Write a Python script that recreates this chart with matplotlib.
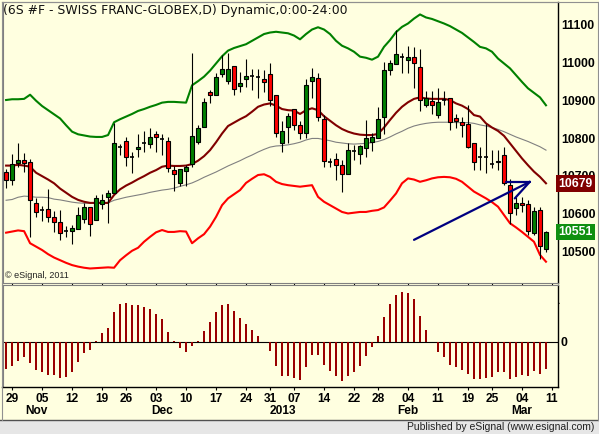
import matplotlib
matplotlib.use("Agg")
import matplotlib.pyplot as plt
from matplotlib.patches import Rectangle
from matplotlib.lines import Line2D
import matplotlib.transforms as mtransforms

# ---------------- data ----------------
opens = [10711,10690,10735,10741,10736,10629,10608,10611,10591,10577,10553,10553,10558,10586,10616,10582,
         10626,10643,10655,10775,10793,10750,10770,10786,10783,10810,10798,10793,10716,10682,10712,
         10730,10790,10829,10921,10913,10969,10952,10991,10938,10956,10965,10963,10958,10970,10913,10786,10830,
         10876,10834,10813,10951,10959,10850,10736,10744,10728,10704,10767,10759,10774,10790,10799,
         10855,10981,10997,11014,11007,11014,10989,10889,10898,10861,10901,10905,10852,10842,10837,10786,
         10749,10749,10730,10738,10755,10676,10615,10629,10624,10549,10609,10507]
highs = [10717,10759,10786,10761,10744,10642,10620,10665,10607,10609,10567,10570,10618,10629,10618,10649,
         10652,10662,10839,10784,10802,10764,10810,10819,10827,10819,10810,10804,10727,10717,10729,
         11025,10836,10905,10928,10972,11020,11025,10991,10976,11009,10982,10982,10981,10998,10913,10845,10866,
         10876,10844,10958,10985,10972,10861,10746,10760,10742,10786,10782,10782,10848,10813,10882,
         11003,11007,11088,11025,11044,11041,11035,10926,10926,10932,10926,10905,10864,10857,10888,10786,
         10777,10837,10768,10768,10777,10692,10644,10644,10636,10618,10618,10554]
lows = [10668,10675,10724,10711,10538,10591,10581,10578,10551,10530,10538,10518,10558,10574,10541,10582,
        10611,10576,10655,10755,10726,10708,10751,10764,10773,10762,10755,10711,10659,10674,10674,
        10724,10783,10829,10892,10913,10963,10943,10914,10923,10936,10927,10905,10923,10885,10802,10763,10786,
        10821,10797,10799,10905,10844,10722,10722,10690,10658,10704,10742,10731,10751,10767,10799,
        10810,10967,10997,10972,10972,10932,10873,10882,10864,10852,10888,10821,10826,10804,10773,10715,
        10715,10708,10720,10715,10676,10572,10596,10603,10543,10543,10478,10497]
closes = [10688,10732,10743,10735,10635,10605,10608,10591,10578,10547,10553,10561,10595,10616,10572,10640,
          10635,10654,10786,10775,10749,10750,10777,10786,10804,10802,10798,10721,10704,10717,10723,
          10806,10826,10895,10913,10961,10983,10982,10929,10945,10966,10965,10963,10948,10901,10813,10820,10859,
          10836,10813,10942,10961,10857,10738,10736,10728,10704,10768,10767,10778,10799,10802,10850,
          10981,10998,11023,11014,11014,11000,10901,10905,10889,10897,10901,10842,10846,10836,10775,10736,
          10749,10749,10730,10737,10680,10600,10627,10622,10554,10607,10514,10551]

ma_fast = [10727,10727,10729,10727,10724,10708,10699,10690,10680,10666,10655,10644,10636,10631,10628,10628,
           10628,10628,10649,10664,10674,10682,10691,10699,10708,10715,10724,10727,10726,10726,10727,
           10731,10740,10752,10768,10789,10812,10832,10841,10850,10858,10870,10883,10889,10892,10886,10877,10874,
           10873,10864,10874,10879,10874,10858,10846,10834,10824,10817,10812,10809,10808,10808,10811,10828,
           10848,10867,10883,10895,10904,10908,10905,10904,10904,10904,10901,10892,10886,10877,10861,
           10857,10839,10828,10819,10806,10786,10766,10746,10728,10711,10697,10680]
ma_slow = [10635,10637,10643,10646,10645,10643,10643,10642,10638,10636,10633,10630,10628,10627,10627,10627,
           10628,10628,10635,10639,10643,10646,10649,10652,10656,10659,10662,10664,10667,10672,10676,
           10681,10688,10696,10703,10710,10718,10726,10733,10740,10748,10755,10763,10770,10776,10779,10780,10782,
           10785,10789,10795,10799,10799,10796,10793,10789,10787,10785,10784,10785,10786,10788,10791,10796,
           10803,10811,10818,10826,10832,10836,10839,10841,10842,10842,10842,10841,10841,10841,10839,
           10835,10832,10828,10823,10817,10810,10803,10797,10791,10784,10777,10768]
band_upper = [10901,10903,10903,10904,10915,10899,10885,10874,10863,10852,10834,10817,10810,10807,10804,10803,
              10803,10808,10842,10850,10857,10864,10872,10877,10883,10888,10894,10896,10896,10895,10894,
              10940,10951,10963,10979,10998,11017,11032,11039,11044,11049,11058,11067,11076,11080,11082,11080,11078,
              11072,11062,11076,11088,11094,11088,11076,11058,11045,11038,11029,11016,11013,11008,11016,11042,
              11060,11081,11095,11104,11117,11128,11120,11116,11110,11104,11097,11088,11079,11067,11055,
              11042,11038,11029,11011,10998,10985,10967,10949,10932,10920,10908,10887]
band_lower = [10549,10552,10555,10553,10521,10512,10503,10492,10483,10476,10469,10463,10459,10456,10454,10455,
              10456,10457,10456,10476,10489,10501,10509,10525,10538,10550,10556,10551,10551,10553,10552,
              10521,10534,10545,10565,10591,10622,10640,10651,10662,10681,10692,10702,10704,10697,10684,10678,10675,
              10673,10671,10673,10675,10644,10631,10622,10613,10604,10600,10602,10604,10604,10607,10609,10616,
              10634,10653,10680,10693,10690,10684,10688,10693,10696,10697,10696,10692,10684,10671,10658,
              10649,10640,10630,10618,10596,10574,10563,10551,10538,10525,10490,10472]
oscillator = [-82,-72,-57,-47,-65,-84,-92,-99,-101,-110,-105,-92,-62,-35,-24,3,
              25,42,90,114,117,111,111,106,99,84,69,30,3,-20,-32,
              -14,3,33,60,90,111,114,94,72,54,36,18,-1,-29,-74,-102,-104,
              -110,-115,-75,-39,-39,-69,-89,-104,-119,-104,-92,-72,-42,-15,18,75,
              113,140,150,147,129,78,36,-1,-30,-45,-69,-77,-84,-97,-113,
              -113,-110,-105,-90,-92,-111,-105,-99,-103,-87,-96,-81]

day_tick_pos = [1, 6, 11, 16, 20, 25, 30, 35, 40, 44, 48, 53, 58, 62, 67, 72, 77, 81, 86, 91]
day_tick_labels = ["29", "05", "12", "19", "26", "03", "10", "17", "24", "31", "07", "14",
                   "22", "28", "04", "11", "19", "25", "04", "11"]
month_pos = [5, 26, 46.2, 67, 86]
month_labels = ["Nov", "Dec", "2013", "Feb", "Mar"]
price_ticks = [10500, 10600, 10700, 10800, 10900, 11000, 11100]
last_ma_value = 10679
last_close = 10551
arrow_start = (68, 10530)
arrow_tip = (87.3, 10684)
arrow_head_a = (83.4, 10684)
arrow_head_b = (84.8, 10640)

# ---------------- style ----------------
W, H = 599, 434
BG = "#FFFFE0"
GREEN = "#008000"
RED = "#FF0000"
MAROON = "#800000"
HIST = "#990000"
FONT = "Liberation Sans"

fig = plt.figure(figsize=(W / 100, H / 100), dpi=100, facecolor=BG)

def rect(x0, y0, x1, y1):
    return [x0 / W, 1 - y1 / H, (x1 - x0) / W, (y1 - y0) / H]

# status bar and frame
fig.patches.append(Rectangle((0, 0), 1, 1 - 420 / H, transform=fig.transFigure,
                             facecolor="#E6E6E6", edgecolor="none", zorder=0))
fig.add_artist(Line2D([0, 1], [1 - 419.5 / H] * 2, transform=fig.transFigure, color="#505050", lw=1.0))
fig.add_artist(Line2D([2 / W, 2 / W], [1 - 2 / H, 1 - 419.5 / H], transform=fig.transFigure, color="#909090", lw=0.8))
fig.add_artist(Line2D([597.5 / W, 597.5 / W], [1 - 2 / H, 1 - 419.5 / H], transform=fig.transFigure, color="#909090", lw=0.8))
fig.add_artist(Line2D([2 / W, 597.5 / W], [1 - 1.5 / H] * 2, transform=fig.transFigure, color="#909090", lw=0.8))
fig.text(594 / W, 1 - 427 / H, "Published by eSignal (www.esignal.com)", ha="right", va="center",
         fontsize=7.5, family=FONT, color="#202020")

ax1 = fig.add_axes(rect(2.5, 2, 557.5, 283))
ax2 = fig.add_axes(rect(2.5, 285, 557.5, 386.5), sharex=ax1)
XMIN, XMAX = -0.6, 91.92

for ax in (ax1, ax2):
    ax.set_facecolor(BG)
    for s in ("left", "top", "bottom"):
        ax.spines[s].set_color("#808080")
        ax.spines[s].set_linewidth(0.8)
    ax.spines["right"].set_color("black")
    ax.spines["right"].set_linewidth(1.0)

ax1.set_xlim(XMIN, XMAX)
ax1.set_ylim(10415.5, 11161)
ax2.set_ylim(-135, 171)
ax2.spines["bottom"].set_color("black")
ax2.spines["bottom"].set_linewidth(1.0)

x = list(range(len(closes)))

# bands and averages
lw2 = 1.5
ax1.plot(x, band_upper, color=GREEN, lw=lw2, zorder=2)
ax1.plot(x, band_lower, color=RED, lw=lw2, zorder=2)
ax1.plot(x, ma_slow, color="#808080", lw=0.8, zorder=2)
ax1.plot(x, ma_fast, color=MAROON, lw=lw2, zorder=2)

# candles
bw = 0.7
for i, (o, h, l, c) in enumerate(zip(opens, highs, lows, closes)):
    ax1.plot([i, i], [l, h], color="black", lw=0.8, zorder=3, solid_capstyle="butt")
    if o == c:
        ax1.plot([i - bw / 2 - 0.05, i + bw / 2 + 0.05], [o, o], color="black", lw=1.2, zorder=4,
                 solid_capstyle="butt")
    else:
        col = GREEN if c > o else RED
        ax1.add_patch(Rectangle((i - bw / 2, min(o, c)), bw, abs(c - o), facecolor=col,
                                edgecolor="black", lw=0.8, zorder=4))

# arrow annotation
for a in (arrow_start, arrow_head_a, arrow_head_b):
    ax1.plot([a[0], arrow_tip[0]], [a[1], arrow_tip[1]], color="#000080", lw=1.6,
             zorder=6, solid_capstyle="round")

# price axis labels
ax1.set_xticks([])
ax1.yaxis.tick_right()
ax1.set_yticks(price_ticks)
ax1.set_yticklabels([str(p) for p in price_ticks])
ax1.tick_params(axis="y", length=0, pad=2.5)
for lab in ax1.get_yticklabels():
    lab.set_fontfamily(FONT)
    lab.set_fontweight("bold")
    lab.set_fontsize(8.8)
trans = ax1.get_yaxis_transform()
ax1.text(1.0015, last_ma_value, str(last_ma_value), transform=trans, ha="left", va="center",
         color="white", fontsize=8.8, fontweight="bold", family=FONT, zorder=10, clip_on=False,
         bbox=dict(boxstyle="square,pad=0.18", facecolor=MAROON, edgecolor="none"))
ax1.text(1.0015, last_close, str(last_close), transform=trans, ha="left", va="center",
         color="white", fontsize=8.8, fontweight="bold", family=FONT, zorder=10, clip_on=False,
         bbox=dict(boxstyle="square,pad=0.18", facecolor="#109010", edgecolor="none"))

ax1.text(3 / W, 1 - 10.5 / H, "(6S #F - SWISS FRANC-GLOBEX,D) Dynamic,0:00-24:00",
         transform=fig.transFigure, ha="left", va="center", fontsize=8.9, family="DejaVu Sans",
         color="#101010")
ax1.text(5 / W, 1 - 276 / H, "\u00a9 eSignal, 2011", transform=fig.transFigure, ha="left",
         va="center", fontsize=6.5, family=FONT, color="#202020")

# oscillator
ax2.bar(x, oscillator, width=0.34, color=HIST, zorder=3)
ax2.axhline(0, color="black", lw=0.8, zorder=2)
ax2.yaxis.tick_right()
ax2.set_yticks([0])
ax2.set_yticklabels(["0"])
ax2.tick_params(axis="y", length=0, pad=2.5)
for lab in ax2.get_yticklabels():
    lab.set_fontfamily(FONT)
    lab.set_fontweight("bold")
    lab.set_fontsize(8.8)

ax2.set_xticks(day_tick_pos)
ax2.set_xticklabels(day_tick_labels)
ax2.tick_params(axis="x", length=2, direction="out", pad=3, color="black")
for lab in ax2.get_xticklabels():
    lab.set_fontfamily(FONT)
    lab.set_fontweight("bold")
    lab.set_fontsize(8.6)
ax2.set_xlim(XMIN, XMAX)

mtrans = mtransforms.blended_transform_factory(ax2.transData, fig.transFigure)
for p, lab in zip(month_pos, month_labels):
    ax2.text(p, 1 - 411 / H, lab, transform=mtrans, ha="center", va="center", fontsize=8.6,
             fontweight="bold", family=FONT, color="black")

fig.savefig("out.png", dpi=100, facecolor=BG)
